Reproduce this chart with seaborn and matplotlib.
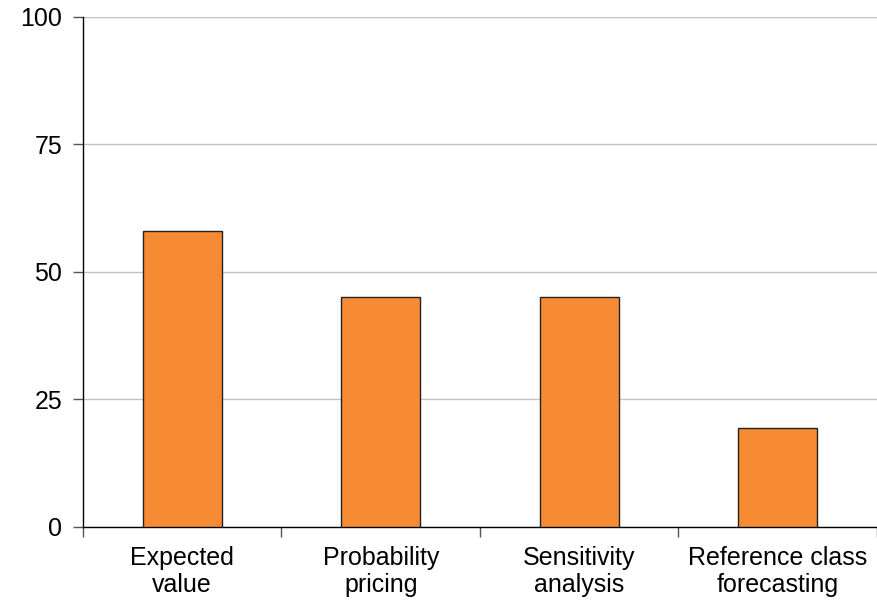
import seaborn as sns
import pandas as pd
import matplotlib.pyplot as plt
import numpy as np

categorias = ['Expected\nvalue', 'Probability\npricing', 'Sensitivity\nanalysis', 'Reference class\nforecasting']
valores = [58, 45.1, 45.1, 19.4]
yticks = [0, 25, 50, 75, 100]

df = pd.DataFrame({'metodo': categorias, 'valor': valores})

sns.set_style('white')
plt.rcParams['font.family'] = ['Liberation Sans', 'DejaVu Sans']
plt.rcParams['text.color'] = 'black'
plt.rcParams['xtick.color'] = 'black'
plt.rcParams['ytick.color'] = 'black'

fig = plt.figure(figsize=(8.77, 6), dpi=100)
ax = fig.add_axes([0.0946, 0.1217, 0.9054, 0.85])

sns.barplot(x='metodo', y='valor', data=df, color='#F68B33', saturation=1,
            width=0.4, edgecolor='#222222', linewidth=1, ax=ax, zorder=3)

ax.set_ylim(0, 100)
ax.set_xlim(-0.5, len(categorias) - 0.5)
ax.set_yticks(yticks)
ax.set_yticklabels([str(t) for t in yticks], fontsize=18)
ax.yaxis.grid(True, color='#bfc2c6', linewidth=1, zorder=0)
ax.set_axisbelow(True)

# rotulos no centro, tracinhos nas divisas
ax.tick_params(axis='x', which='major', length=0, pad=14, labelsize=18, labelcolor='black')
for lbl in ax.get_xticklabels():
    lbl.set_linespacing(1.12)
ax.set_xticks(np.arange(len(categorias) + 1) - 0.5, minor=True)
ax.tick_params(axis='x', which='minor', bottom=True, length=7, color='#555555', width=1, direction='out')
ax.tick_params(axis='y', length=7, color='#555555', width=1, direction='out', pad=8, left=True,
               labelcolor='black')

ax.set_xlabel('')
ax.set_ylabel('')
for s in ['top', 'right']:
    ax.spines[s].set_visible(False)
ax.spines['left'].set_color('black')
ax.spines['bottom'].set_color('black')
ax.spines['left'].set_linewidth(1)
ax.spines['bottom'].set_linewidth(1)

plt.savefig('out.png', dpi=100)
